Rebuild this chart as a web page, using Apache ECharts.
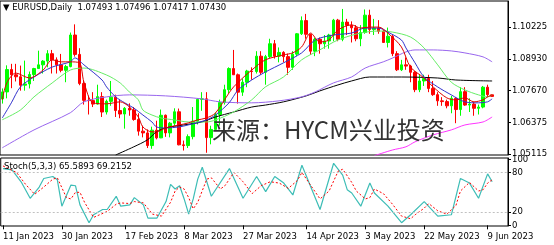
<!DOCTYPE html>
<html>
<head>
<meta charset="utf-8">
<script src="https://cdn.jsdelivr.net/npm/echarts@6.0.0/dist/echarts.min.js"></script>
<style>
html, body { margin: 0; padding: 0; background: #fff; }
#main { width: 554px; height: 245px; }
</style>
</head>
<body>
<div id="main"></div>
<script>
// trading days shown on the chart
var dates = ['11 Jan 2023','12 Jan 2023','13 Jan 2023','16 Jan 2023','17 Jan 2023','18 Jan 2023','19 Jan 2023','20 Jan 2023','23 Jan 2023','24 Jan 2023',
  '25 Jan 2023','26 Jan 2023','27 Jan 2023','30 Jan 2023','31 Jan 2023','1 Feb 2023','2 Feb 2023','3 Feb 2023','6 Feb 2023','7 Feb 2023',
  '8 Feb 2023','9 Feb 2023','10 Feb 2023','13 Feb 2023','14 Feb 2023','15 Feb 2023','16 Feb 2023','17 Feb 2023','20 Feb 2023','21 Feb 2023',
  '22 Feb 2023','23 Feb 2023','24 Feb 2023','27 Feb 2023','28 Feb 2023','1 Mar 2023','2 Mar 2023','3 Mar 2023','6 Mar 2023','7 Mar 2023',
  '8 Mar 2023','9 Mar 2023','10 Mar 2023','13 Mar 2023','14 Mar 2023','15 Mar 2023','16 Mar 2023','17 Mar 2023','20 Mar 2023','21 Mar 2023',
  '22 Mar 2023','23 Mar 2023','24 Mar 2023','27 Mar 2023','28 Mar 2023','29 Mar 2023','30 Mar 2023','31 Mar 2023','3 Apr 2023','4 Apr 2023',
  '5 Apr 2023','6 Apr 2023','7 Apr 2023','10 Apr 2023','11 Apr 2023','12 Apr 2023','13 Apr 2023','14 Apr 2023','17 Apr 2023','18 Apr 2023',
  '19 Apr 2023','20 Apr 2023','21 Apr 2023','24 Apr 2023','25 Apr 2023','26 Apr 2023','27 Apr 2023','28 Apr 2023','1 May 2023','2 May 2023',
  '3 May 2023','4 May 2023','5 May 2023','8 May 2023','9 May 2023','10 May 2023','11 May 2023','12 May 2023','15 May 2023','16 May 2023',
  '17 May 2023','18 May 2023','19 May 2023','22 May 2023','23 May 2023','24 May 2023','25 May 2023','26 May 2023','29 May 2023','30 May 2023',
  '31 May 2023','1 Jun 2023','2 Jun 2023','5 Jun 2023','6 Jun 2023','7 Jun 2023','8 Jun 2023','9 Jun 2023','12 Jun 2023'];

var tickDates = ['11 Jan 2023','30 Jan 2023','17 Feb 2023','8 Mar 2023','27 Mar 2023','14 Apr 2023','3 May 2023','22 May 2023','9 Jun 2023'];
var priceTicks = [1.05115, 1.06375, 1.07670, 1.08930, 1.10225];
var stochTicks = [0, 20, 80, 100];

var open = [1.0733,1.0761,1.0851,1.0830,1.0822,1.0788,1.0793,1.0831,1.0855,1.0870,
  1.0885,1.0915,1.0890,1.0870,1.0848,1.0863,1.0990,1.0912,1.0795,1.0727,
  1.0726,1.0712,1.0742,1.0680,1.0723,1.0740,1.0686,1.0672,1.0695,1.0688,
  1.0650,1.0603,1.0596,1.0545,1.0607,1.0576,1.0667,1.0596,1.0635,1.0681,
  1.0548,1.0545,1.0581,1.0643,1.0731,1.0733,1.0577,1.0610,1.0670,1.0718,
  1.0770,1.0855,1.0830,1.0760,1.0800,1.0845,1.0843,1.0905,1.0840,1.0903,
  1.0955,1.0905,1.0920,1.0903,1.0860,1.0913,1.0995,1.1048,1.0993,1.0925,
  1.0973,1.0955,1.0966,1.0990,1.1050,1.0973,1.1042,1.1029,1.1019,1.0975,
  1.1000,1.1070,1.1012,1.1018,1.1005,1.0960,1.0985,1.0915,1.0850,1.0870,
  1.0865,1.0840,1.0770,1.0805,1.0815,1.0775,1.0750,1.0725,1.0722,1.0705,
  1.0735,1.0690,1.0762,1.0708,1.0712,1.0695,1.0700,1.0780,1.07493];
var close = [1.0761,1.0851,1.0830,1.0822,1.0788,1.0793,1.0831,1.0855,1.0870,1.0885,
  1.0915,1.0890,1.0870,1.0848,1.0863,1.0990,1.0912,1.0795,1.0727,1.0726,
  1.0712,1.0742,1.0680,1.0723,1.0740,1.0686,1.0672,1.0695,1.0688,1.0650,
  1.0603,1.0596,1.0545,1.0607,1.0576,1.0667,1.0596,1.0635,1.0681,1.0548,
  1.0545,1.0581,1.0643,1.0731,1.0733,1.0577,1.0610,1.0670,1.0718,1.0770,
  1.0855,1.0830,1.0760,1.0800,1.0845,1.0843,1.0905,1.0840,1.0903,1.0955,
  1.0905,1.0920,1.0903,1.0860,1.0913,1.0995,1.1048,1.0993,1.0925,1.0973,
  1.0955,1.0966,1.0990,1.1050,1.0973,1.1042,1.1029,1.1019,1.0975,1.1000,
  1.1070,1.1012,1.1018,1.1005,1.0960,1.0985,1.0915,1.0850,1.0870,1.0865,
  1.0840,1.0770,1.0805,1.0815,1.0775,1.0750,1.0725,1.0722,1.0705,1.0735,
  1.0690,1.0762,1.0708,1.0712,1.0695,1.0700,1.0780,1.0750,1.07430];
var high = [1.0775,1.0868,1.0874,1.0874,1.0867,1.0887,1.0843,1.0858,1.0927,1.0889,
  1.0929,1.0930,1.0900,1.0914,1.0870,1.1000,1.1033,1.0937,1.0805,1.0746,
  1.0760,1.0790,1.0760,1.0730,1.0805,1.0750,1.0730,1.0700,1.0715,1.0700,
  1.0675,1.0625,1.0610,1.0621,1.0645,1.0690,1.0670,1.0640,1.0695,1.0694,
  1.0565,1.0590,1.0700,1.0735,1.0760,1.0760,1.0625,1.0677,1.0730,1.0790,
  1.0860,1.0930,1.0835,1.0815,1.0850,1.0860,1.0925,1.0925,1.0910,1.0975,
  1.0970,1.0940,1.0925,1.0915,1.0925,1.0998,1.1065,1.1075,1.0995,1.0980,
  1.0980,1.0990,1.0995,1.1055,1.1055,1.1095,1.1055,1.1045,1.1030,1.1030,
  1.1093,1.1092,1.1055,1.1050,1.1010,1.1020,1.0990,1.0925,1.0890,1.0900,
  1.0870,1.0845,1.0830,1.0830,1.0830,1.0805,1.0760,1.0740,1.0730,1.0745,
  1.0740,1.0780,1.0780,1.0735,1.0720,1.0710,1.0785,1.0790,1.07496];
var low = [1.0714,1.0735,1.0776,1.0803,1.0766,1.0766,1.0775,1.0805,1.0855,1.0835,
  1.0860,1.0835,1.0835,1.0840,1.0800,1.0860,1.0903,1.0788,1.0710,1.0670,
  1.0700,1.0710,1.0660,1.0670,1.0705,1.0660,1.0655,1.0613,1.0665,1.0645,
  1.0585,1.0578,1.0535,1.0532,1.0570,1.0575,1.0580,1.0578,1.0625,1.0546,
  1.0525,1.0535,1.0570,1.0630,1.0685,1.0516,1.0550,1.0610,1.0625,1.0710,
  1.0755,1.0830,1.0714,1.0745,1.0780,1.0810,1.0835,1.0830,1.0790,1.0895,
  1.0895,1.0880,1.0880,1.0830,1.0850,1.0905,1.0990,1.0975,1.0910,1.0905,
  1.0915,1.0935,1.0935,1.0965,1.0965,1.0965,1.0990,1.0960,1.0965,1.0945,
  1.0995,1.0995,1.0990,1.0995,1.0960,1.0940,1.0905,1.0845,1.0845,1.0850,
  1.0800,1.0760,1.0760,1.0785,1.0760,1.0745,1.0705,1.0705,1.0695,1.0675,
  1.0635,1.0665,1.0705,1.0680,1.0665,1.0670,1.0695,1.0740,1.07417];

// moving averages: [bar index, price]
var ma5 = [[0,1.0729],[1,1.0797],[3,1.0837],[6,1.0817],[9,1.0849],[11,1.0890],[13,1.0882],[15,1.0882],[17,1.0878],[18,1.0801],
  [20,1.0717],[23,1.0713],[26,1.0721],[28,1.0701],[30,1.0660],[31,1.0620],[33,1.0600],[34,1.0600],[36,1.0616],[39,1.0628],
  [41,1.0636],[43,1.0648],[45,1.0656],[47,1.0676],[50,1.0757],[51,1.0781],[53,1.0817],[55,1.0849],[58,1.0890],[62,1.0910],
  [64,1.0918],[66,1.0942],[68,1.0998],[70,1.0962],[72,1.0970],[74,1.1010],[77,1.1031],[79,1.1018],[81,1.1022],[83,1.1022],
  [85,1.0998],[88,1.0942],[90,1.0861],[93,1.0817],[95,1.0781],[98,1.0737],[100,1.0729],[102,1.0737],[104,1.0721],[106,1.0729],
  [107,1.0741],[108,1.0749]];
var ma10 = [[0,1.0656],[2,1.0717],[4,1.0781],[7,1.0821],[11,1.0861],[15,1.0882],[16,1.0898],[18,1.0870],[22,1.0809],[23,1.0781],
  [25,1.0741],[27,1.0717],[29,1.0696],[31,1.0668],[33,1.0640],[34,1.0620],[36,1.0616],[39,1.0620],[41,1.0628],[45,1.0648],
  [47,1.0668],[50,1.0717],[52,1.0769],[55,1.0809],[58,1.0841],[62,1.0878],[66,1.0918],[69,1.0970],[73,1.0990],[77,1.0998],
  [80,1.1018],[83,1.1018],[85,1.1002],[88,1.0970],[89,1.0938],[91,1.0878],[93,1.0821],[96,1.0781],[99,1.0749],[102,1.0721],
  [105,1.0717],[107,1.0721],[108,1.0733]];
var ma20 = [[0,1.0649],[4,1.0688],[7,1.0741],[11,1.0797],[15,1.0849],[18,1.0857],[23,1.0829],[26,1.0797],[28,1.0761],[30,1.0729],
  [31,1.0688],[33,1.0668],[35,1.0656],[38,1.0648],[41,1.0640],[45,1.0640],[47,1.0648],[51,1.0680],[55,1.0729],[58,1.0781],
  [62,1.0821],[66,1.0890],[70,1.0930],[74,1.0970],[79,1.0998],[83,1.1006],[86,1.1002],[90,1.0982],[93,1.0938],[96,1.0870],
  [99,1.0800],[102,1.0769],[105,1.0749],[107,1.0741],[108,1.0749]];
var ma50 = [[0,1.0536],[7,1.0608],[15,1.0677],[18,1.0721],[23,1.0741],[28,1.0749],[36,1.0745],[44,1.0733],[48,1.0721],[55,1.0717],
  [61,1.0725],[66,1.0741],[69,1.0761],[73,1.0797],[77,1.0821],[80,1.0857],[84,1.0882],[86,1.0897],[89,1.0922],[91,1.0930],
  [95,1.0930],[99,1.0926],[102,1.0918],[106,1.0902],[108,1.0882]];
var ma100 = [[25,1.0507],[29,1.0540],[32,1.0568],[34,1.0600],[36,1.0616],[40,1.0628],[44,1.0640],[47,1.0660],[51,1.0680],[55,1.0700],
  [58,1.0708],[62,1.0721],[67,1.0745],[70,1.0765],[74,1.0789],[77,1.0805],[81,1.0821],[88,1.0821],[96,1.0817],[100,1.0809],
  [108,1.0805]];
var ma200 = [[82,1.0504],[86,1.0527],[89,1.0540],[91,1.0560],[95,1.0588],[99,1.0608],[102,1.0628],[106,1.0640],[108,1.0660]];

// stochastic (5,3,3): main and signal, [bar index, value]
var stochMain = [[0,86],[2,84],[4,66],[6,41],[8,58],[9,71],[11,74],[12,69],[13,29],[15,61],
  [16,60],[17,31],[19,4],[20,16],[22,24],[23,24],[25,44],[26,29],[28,31],[29,42],
  [31,31],[32,11],[34,11],[36,36],[37,62],[38,55],[39,60],[40,40],[41,17],[42,40],
  [43,70],[44,88],[46,44],[50,86],[53,41],[56,74],[58,51],[60,74],[62,64],[64,46],
  [66,91],[70,24],[73,94],[75,76],[76,54],[77,49],[79,29],[81,64],[82,49],[85,29],
  [88,4],[90,16],[93,36],[96,14],[99,16],[101,71],[103,64],[105,41],[107,78],[108,66]];
var stochSignal = [[0,90],[3,80],[5,62],[7,47],[9,58],[11,70],[12,72],[13,57],[14,42],[15,40],
  [16,50],[17,50],[18,35],[20,12],[21,15],[23,21],[25,32],[26,34],[28,33],[29,36],
  [31,34],[33,17],[35,14],[37,35],[38,52],[39,58],[40,55],[41,42],[42,25],[43,35],
  [45,70],[46,72],[48,55],[49,60],[51,80],[53,66],[55,48],[57,60],[59,66],[61,64],
  [63,56],[65,68],[66,80],[68,60],[70,40],[72,52],[74,82],[75,85],[77,65],[78,52],
  [80,40],[81,42],[82,55],[84,48],[86,32],[88,14],[90,10],[91,16],[93,26],[94,33],
  [96,22],[98,17],[100,30],[101,52],[103,65],[105,52],[106,54],[107,64],[108,69]];

var cats = dates.concat(['', '', '']);
var candles = open.map(function (o, i) { return [o, close[i], low[i], high[i]]; });

function isTick(idx, value) { return tickDates.indexOf(value) >= 0; }

var font = 'DejaVu Sans';
var myChart = echarts.init(document.getElementById('main'));

function maLine(name, data, color) {
  return {
    name: name, type: 'line', data: data, xAxisIndex: 0, yAxisIndex: 0,
    symbol: 'none', smooth: 0.3, silent: true,
    lineStyle: { color: color, width: 1 }, z: 3
  };
}

myChart.setOption({
  animation: false,
  backgroundColor: '#fff',
  graphic: [
    { type: 'text', left: 3, top: 3, style: { text: '▼ EURUSD,Daily  1.07493 1.07496 1.07417 1.07430', font: '8.5px "DejaVu Sans"', fill: '#000' } },
    { type: 'text', left: 4, top: 162, z: 10, style: { text: 'Stoch(5,3,3) 65.5893 69.2152', font: '8.5px "DejaVu Sans"', fill: '#000' } },
    { type: 'text', left: 212, top: 118, z: 10, style: { text: '来源：HYCM兴业投资', font: '24px "Noto Sans CJK SC"', fill: '#333' } }
  ],
  grid: [
    { left: -2, top: 1, width: 510, height: 154, show: true, borderColor: '#000', borderWidth: 1, backgroundColor: '#fff' },
    { left: -2, top: 158, width: 510, height: 68, show: true, borderColor: '#000', borderWidth: 1, backgroundColor: '#fff' }
  ],
  xAxis: [
    { type: 'category', gridIndex: 0, data: cats, boundaryGap: true,
      axisLine: { show: false }, axisTick: { show: false }, axisLabel: { show: false } },
    { type: 'category', gridIndex: 1, data: cats, boundaryGap: true,
      axisLine: { show: false },
      axisTick: { show: true, alignWithLabel: true, interval: isTick, length: 4, lineStyle: { color: '#000' } },
      axisLabel: { show: true, interval: isTick, align: 'left', margin: 6, color: '#000', fontFamily: font, fontSize: 8.5 } }
  ],
  yAxis: [
    { type: 'value', gridIndex: 0, position: 'right', min: 1.0507, max: 1.1127, scale: true,
      splitLine: { show: false },
      axisLine: { show: true, lineStyle: { color: '#000' } },
      axisTick: { show: true, length: 3, customValues: priceTicks, lineStyle: { color: '#000' } },
      axisLabel: { customValues: priceTicks, margin: 4, color: '#000', fontFamily: font, fontSize: 8.5,
        formatter: function (v) { return v.toFixed(5); } } },
    { type: 'value', gridIndex: 1, position: 'right', min: -1, max: 102,
      splitLine: { show: false },
      axisLine: { show: true, lineStyle: { color: '#000' } },
      axisTick: { show: true, length: 3, customValues: stochTicks, lineStyle: { color: '#000' } },
      axisLabel: { customValues: stochTicks, showMinLabel: true, showMaxLabel: true, margin: 4,
        color: '#000', fontFamily: font, fontSize: 8.5 } }
  ],
  series: [
    maLine('MA200', ma200, '#ff33ff'),
    maLine('MA100', ma100, '#000000'),
    maLine('MA50', ma50, '#9966ee'),
    maLine('MA20', ma20, '#66ee66'),
    maLine('MA10', ma10, '#3333cc'),
    {
      name: 'EURUSD', type: 'candlestick', data: candles, xAxisIndex: 0, yAxisIndex: 0,
      barWidth: 3, z: 2,
      itemStyle: { color: '#00ff00', color0: '#ff0000', borderColor: '#00ff00', borderColor0: '#ff0000', borderWidth: 1 },
      markLine: {
        silent: true, symbol: ['none', 'none'],
        lineStyle: { opacity: 0 },
        label: { show: true, position: 'end', distance: 1, formatter: '1.07430', color: '#fff', backgroundColor: '#000',
          padding: [1, 2, 1, 2], fontFamily: font, fontSize: 8.5 },
        data: [{ yAxis: 1.0743 }]
      }
    },
    maLine('MA5', ma5, '#dd0000'),
    {
      name: 'Main', type: 'line', data: stochMain, xAxisIndex: 1, yAxisIndex: 1,
      symbol: 'none', lineStyle: { color: '#3dbdb6', width: 1.2 }, z: 3,
      markLine: {
        silent: true, symbol: ['none', 'none'], label: { show: false },
        lineStyle: { color: '#c0c0c0', type: [2, 2], width: 1 },
        data: [{ yAxis: 80 }, { yAxis: 20 }]
      }
    },
    {
      name: 'Signal', type: 'line', data: stochSignal, xAxisIndex: 1, yAxisIndex: 1,
      symbol: 'none', lineStyle: { color: '#ff0000', width: 1, type: [2, 2] }, z: 4
    }
  ]
});
</script>
</body>
</html>
